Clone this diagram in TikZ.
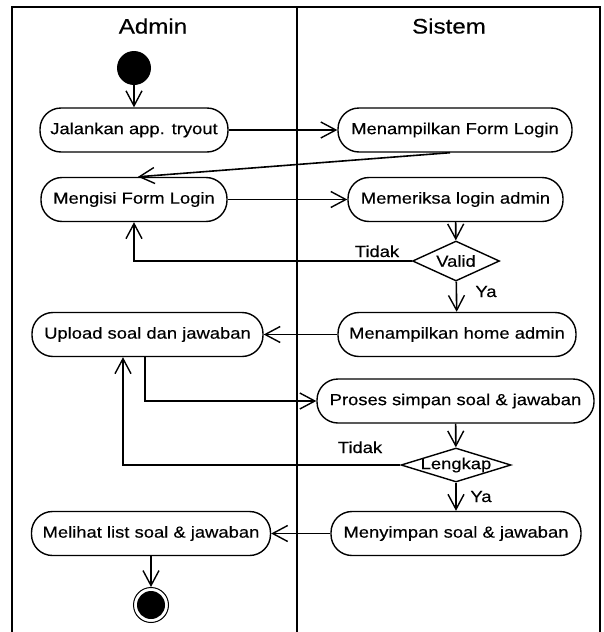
\documentclass[tikz,border=0pt]{standalone}
\usepackage{fontspec}
\setmainfont[FakeStretch=1.15,FakeBold=0.35]{Liberation Sans}
\usetikzlibrary{arrows.meta,shapes.geometric}

\begin{document}
\begin{tikzpicture}[x=1pt,y=-1pt,
  every node/.style={font=\fontsize{16}{18}\selectfont},
  act/.style={draw, line width=1.4pt, rounded corners=21pt, minimum height=44pt, inner sep=0pt},
  dec/.style={draw, diamond, line width=1.4pt, inner sep=0pt},
  flow/.style={line width=1.6pt, -{Straight Barb[length=15pt,width=16pt,line width=1.4pt]}},
  lane/.style={line width=2pt},
  guard/.style={anchor=base}]
  \useasboundingbox (0,0) rectangle (603,632);

  % swimlane frame
  \draw[lane] (12,632) -- (12,7) -- (600,7) -- (600,632);
  \draw[lane] (297,7) -- (297,632);
  \node[font=\fontsize{21}{24}\selectfont] (hAdmin) at (153,26) {Admin};
  \node[font=\fontsize{21}{24}\selectfont] (hSistem) at (449,26) {Sistem};

  % start / end
  \node[circle, fill=black, minimum size=34pt, inner sep=0pt] (start) at (134,68) {};
  \node[circle, draw, line width=1pt, minimum size=35pt, inner sep=0pt] (finish) at (151,605) {};
  \node[circle, fill=black, minimum size=28pt, inner sep=0pt] (finishdot) at (151,605) {};

  % activities
  \node[act, minimum width=188pt] (n1) at (134,130) {Jalankan app. tryout};
  \node[act, minimum width=234pt] (n2) at (455,130) {Menampilkan Form Login};
  \node[act, minimum width=186pt] (n3) at (134,199.5) {Mengisi Form Login};
  \node[act, minimum width=215pt] (n4) at (455.5,199.5) {Memeriksa login admin};
  \node[dec, minimum width=87pt, minimum height=40pt, label=center:Valid] (d1) at (456,261) {};
  \node[act, minimum width=238pt] (n5) at (457,334.5) {Menampilkan home admin};
  \node[act, minimum width=231pt] (n6) at (147.5,334.5) {Upload soal dan jawaban};
  \node[act, minimum width=277pt] (n7) at (455.5,401) {Proses simpan soal \& jawaban};
  \node[dec, minimum width=110pt, minimum height=34pt, label=center:Lengkap] (d2) at (456,465) {};
  \node[act, minimum width=250pt] (n8) at (456,533.5) {Menyimpan soal \& jawaban};
  \node[act, minimum width=239pt] (n9) at (151,533.5) {Melihat list soal \& jawaban};

  % guards
  \node[guard] (t1) at (377,257) {Tidak};
  \node[guard] (y1) at (486,297) {Ya};
  \node[guard] (t2) at (360,453) {Tidak};
  \node[guard] (y2) at (481,502) {Ya};

  % flows
  \draw[flow] (start) -- (n1);
  \draw[flow] (n1) -- (n2);
  \draw[flow] ([xshift=-5pt]n2.south) -- ([xshift=4pt]n3.north);
  \draw[flow] (n3) -- (n4);
  \draw[flow] (n4) -- (d1);
  \draw[flow] (d1.west) -| (n3.south);
  \draw[flow] (d1) -- (n5);
  \draw[flow] (n5) -- (n6);
  \draw[flow] ([xshift=-2.5pt]n6.south) |- (n7.west);
  \draw[flow] (n7) -- (d2);
  \draw[flow] (d2.west) -| ([xshift=-24.5pt]n6.south);
  \draw[flow] (d2) -- (n8);
  \draw[flow] (n8) -- (n9);
  \draw[flow] (n9) -- (finish);
\end{tikzpicture}
\end{document}
